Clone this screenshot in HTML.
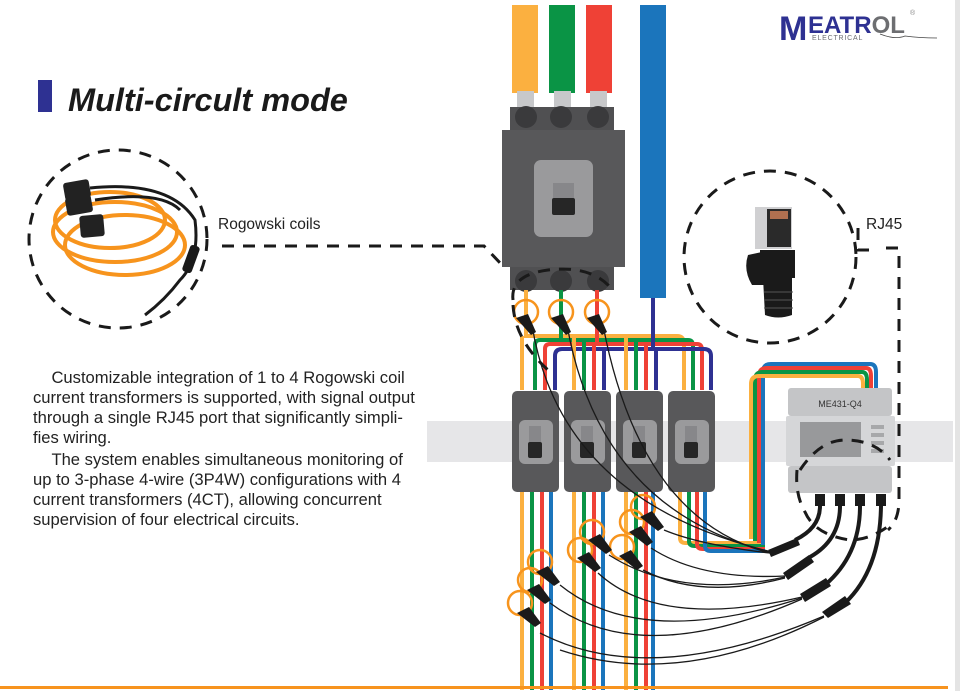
<!DOCTYPE html>
<html><head><meta charset="utf-8"><style>
html,body{margin:0;padding:0;background:#fff;}
body{width:960px;height:691px;overflow:hidden;position:relative;font-family:"Liberation Sans",sans-serif;}
.p{position:absolute;left:33px;top:368px;width:420px;font-size:16.6px;line-height:20px;color:#222;}
.p div{white-space:nowrap}
</style></head><body>
<svg width="960" height="691" viewBox="0 0 960 691" xmlns="http://www.w3.org/2000/svg" style="position:absolute;left:0;top:0">
<!-- rail -->
<rect x="427" y="421" width="526" height="41" fill="#e6e6e8"/>
<rect x="955" y="0" width="5" height="691" fill="#e4e4e4"/>
<!-- title -->
<rect x="38" y="80" width="14" height="32" fill="#2e3192"/>
<text x="68" y="111" font-family="Liberation Sans" font-weight="bold" font-style="italic" font-size="32.5" fill="#1a1a1a">Multi-circult mode</text>
<!-- logo -->
<text x="779" y="40" font-family="Liberation Sans" font-weight="bold" font-size="34" fill="#2e3192">M</text>
<text x="808" y="33" font-family="Liberation Sans" font-weight="bold" font-size="24" fill="#2e3192">EATR<tspan fill="#6d6e71">OL</tspan></text>
<text x="812" y="40" font-family="Liberation Sans" font-size="7" fill="#6d6e71" letter-spacing="0.8">ELECTRICAL</text>
<text x="910" y="15" font-family="Liberation Sans" font-size="7" fill="#888">®</text>
<path d="M880 34 Q895 40 905 36 Q920 38 937 38" stroke="#444" fill="none" stroke-width="0.8"/>
<!-- bus bars -->
<rect x="512" y="5" width="26" height="88" fill="#fbb040"/>
<rect x="549" y="5" width="26" height="88" fill="#0a9445"/>
<rect x="586" y="5" width="26" height="88" fill="#ef4136"/>
<rect x="640" y="5" width="26" height="293" fill="#1b75bc"/>
<rect x="517" y="91" width="17" height="20" fill="#c7c8ca"/>
<rect x="554" y="91" width="17" height="20" fill="#c7c8ca"/>
<rect x="590" y="91" width="17" height="20" fill="#c7c8ca"/>
<!-- main breaker -->
<rect x="510" y="107" width="104" height="24" fill="#505052"/>
<circle cx="526" cy="117" r="11" fill="#3a3a3c"/><circle cx="561" cy="117" r="11" fill="#3a3a3c"/><circle cx="598" cy="117" r="11" fill="#3a3a3c"/>
<rect x="502" y="130" width="123" height="137" fill="#58585a"/>
<rect x="534" y="160" width="59" height="77" rx="7" fill="#9a9a9c"/>
<rect x="553" y="183" width="21" height="16" fill="#87878a"/>
<rect x="552" y="198" width="23" height="17" rx="2" fill="#262626"/>
<rect x="510" y="267" width="104" height="23" fill="#505052"/>
<circle cx="526" cy="281" r="11" fill="#3a3a3c"/><circle cx="561" cy="281" r="11" fill="#3a3a3c"/><circle cx="598" cy="281" r="11" fill="#3a3a3c"/>
<!-- drops from breaker -->
<g fill="none" stroke-width="4">
<path d="M526 290 V336 H677 Q684 336 684 344 V390" stroke="#fbb040"/>
<path d="M561 290 V340 H688 Q693 340 693 346 V390" stroke="#0a9445"/>
<path d="M597 290 V344 H697 Q702 344 702 350 V390" stroke="#ef4136"/>
<path d="M653 298 V349 M555 390 V356 Q555 349 562 349 H704 Q711 349 711 356 V390" stroke="#2e3192"/>
<path d="M535 390 V345 Q535 340 540 340 H561" stroke="#0a9445"/>
<path d="M545 390 V349 Q545 344 550 344 H597" stroke="#ef4136"/>
<path d="M522 390 V336" stroke="#fbb040"/>
<path d="M574 390 V336 M626 390 V336" stroke="#fbb040"/>
<path d="M584 390 V340 M636 390 V340" stroke="#0a9445"/>
<path d="M594 390 V344 M646 390 V344" stroke="#ef4136"/>
<path d="M604 390 V349 M656 390 V349" stroke="#2e3192"/>
</g>
<!-- lower vertical wires -->
<g fill="none" stroke-width="4">
<path d="M522 490 V690 M574 490 V690 M626 490 V690" stroke="#fbb040"/>
<path d="M532 490 V690 M584 490 V690 M636 490 V690" stroke="#0a9445"/>
<path d="M542 490 V690 M594 490 V690 M646 490 V690" stroke="#ef4136"/>
<path d="M551 490 V690 M603 490 V690 M653 490 V690" stroke="#1b75bc"/>
<path d="M680 490 V538 Q680 543 686 543 H765" stroke="#fbb040"/>
<path d="M689 490 V541 Q689 546 695 546 H765" stroke="#0a9445"/>
<path d="M697 490 V544 Q697 549 703 549 H765" stroke="#ef4136"/>
<path d="M705 490 V546 Q705 551 711 551 H765" stroke="#1b75bc"/>
<path d="M763 545 V372 Q763 364 771 364 H870 Q876 364 876 372 V390" stroke="#1b75bc"/>
<path d="M759 543 V376 Q759 368 767 368 H866 Q871 368 871 376 V390" stroke="#ef4136"/>
<path d="M755 541 V380 Q755 372 763 372 H862 Q867 372 867 380 V390" stroke="#0a9445"/>
<path d="M751 539 V384 Q751 376 759 376 H858 Q863 376 863 384 V390" stroke="#fbb040"/>
</g>
<!-- small breakers -->
<g>
<rect x="512" y="391" width="47" height="101" rx="5" fill="#58585a"/>
<rect x="564" y="391" width="47" height="101" rx="5" fill="#58585a"/>
<rect x="616" y="391" width="47" height="101" rx="5" fill="#58585a"/>
<rect x="668" y="391" width="47" height="101" rx="5" fill="#58585a"/>
<rect x="519" y="420" width="34" height="44" rx="6" fill="#9a9a9c"/>
<rect x="571" y="420" width="34" height="44" rx="6" fill="#9a9a9c"/>
<rect x="623" y="420" width="34" height="44" rx="6" fill="#9a9a9c"/>
<rect x="675" y="420" width="34" height="44" rx="6" fill="#9a9a9c"/>
<rect x="529" y="426" width="12" height="16" fill="#87878a"/><rect x="528" y="442" width="14" height="16" rx="2" fill="#262626"/>
<rect x="581" y="426" width="12" height="16" fill="#87878a"/><rect x="580" y="442" width="14" height="16" rx="2" fill="#262626"/>
<rect x="633" y="426" width="12" height="16" fill="#87878a"/><rect x="632" y="442" width="14" height="16" rx="2" fill="#262626"/>
<rect x="685" y="426" width="12" height="16" fill="#87878a"/><rect x="684" y="442" width="14" height="16" rx="2" fill="#262626"/>
</g>
<!-- meter -->
<rect x="788" y="388" width="104" height="28" rx="3" fill="#c4c5c7"/>
<text x="840" y="407" text-anchor="middle" font-family="Liberation Sans" font-size="9" fill="#333">ME431-Q4</text>
<rect x="786" y="416" width="109" height="50" rx="2" fill="#d5d6d8"/>
<rect x="800" y="422" width="61" height="35" fill="#98999b"/>
<rect x="871" y="425" width="13" height="4" fill="#a7a8aa"/><rect x="871" y="433" width="13" height="4" fill="#a7a8aa"/><rect x="871" y="441" width="13" height="4" fill="#a7a8aa"/><rect x="871" y="449" width="13" height="4" fill="#a7a8aa"/>
<rect x="788" y="466" width="104" height="27" rx="3" fill="#c4c5c7"/>
<rect x="815" y="494" width="10" height="12" fill="#1a1a1a"/><rect x="835" y="494" width="10" height="12" fill="#1a1a1a"/><rect x="855" y="494" width="10" height="12" fill="#1a1a1a"/><rect x="876" y="494" width="10" height="12" fill="#1a1a1a"/>
<!-- thick meter cables -->
<g fill="none" stroke="#1a1a1a" stroke-width="4">
<path d="M820 506 Q820 528 795 540"/>
<path d="M840 506 Q840 540 810 557"/>
<path d="M860 506 Q860 555 825 585"/>
<path d="M881 506 Q880 570 845 603"/>
</g>
<g fill="#1a1a1a">
<path d="M768 550 L797 538 L800 545 L771 557 Z"/>
<path d="M783 573 L809 555 L814 562 L788 580 Z"/>
<path d="M800 594 L826 578 L831 586 L805 602 Z"/>
<path d="M822 612 L845 596 L851 604 L828 618 Z"/>
</g>
<!-- orange coil rings -->
<g fill="none" stroke="#f7941d" stroke-width="2.5">
<circle cx="526" cy="312" r="12"/><circle cx="561" cy="312" r="12"/><circle cx="597" cy="312" r="12"/>
<circle cx="643" cy="507" r="12"/><circle cx="632" cy="522" r="12"/><circle cx="592" cy="532" r="12"/>
<circle cx="580" cy="550" r="12"/><circle cx="622" cy="547" r="12"/><circle cx="540" cy="562" r="12"/>
<circle cx="530" cy="580" r="12"/><circle cx="520" cy="603" r="12"/>
</g>
<!-- sensor wires -->
<g fill="none" stroke="#1a1a1a" stroke-width="1.3">
<path d="M532 325 Q560 500 768 551"/>
<path d="M567 325 Q600 510 770 552"/>
<path d="M603 325 Q640 520 770 553"/>
<path d="M664 530 Q700 545 770 553"/>
<path d="M651 548 Q700 580 785 576"/>
<path d="M609 555 Q680 600 785 577"/>
<path d="M643 570 Q700 600 785 578"/>
<path d="M598 573 Q660 630 802 597"/>
<path d="M560 585 Q640 650 802 598"/>
<path d="M550 603 Q640 670 802 599"/>
<path d="M540 633 Q650 690 824 616"/>
<path d="M560 650 Q680 690 824 617"/>
</g>
<g fill="#1a1a1a">
<path d="M516 318 l12 -4 l8 18 l-5 3 Z"/>
<path d="M551 318 l12 -4 l8 18 l-5 3 Z"/>
<path d="M587 318 l12 -4 l8 18 l-5 3 Z"/>
<path d="M640 517 l12 -6 l12 16 l-6 4 Z"/>
<path d="M629 532 l12 -6 l12 16 l-6 4 Z"/>
<path d="M588 540 l12 -6 l12 16 l-6 4 Z"/>
<path d="M577 558 l12 -6 l12 16 l-6 4 Z"/>
<path d="M619 556 l12 -6 l12 16 l-6 4 Z"/>
<path d="M536 572 l12 -6 l12 16 l-6 4 Z"/>
<path d="M527 590 l12 -6 l12 16 l-6 4 Z"/>
<path d="M517 613 l12 -6 l12 16 l-6 4 Z"/>
</g>
<!-- dashed callouts -->
<g fill="none" stroke="#1a1a1a" stroke-width="3" stroke-dasharray="12 9">
<circle cx="118" cy="239" r="89"/>
<path d="M222 246 H484 L503 266"/>
<path d="M513 300 Q510 275 548 270 Q590 265 610 287"/>
<path d="M513 305 Q515 340 548 370"/>
<circle cx="770" cy="257" r="86"/>
<path d="M858 228 V250 H872"/>
<path d="M886 248 H899 V500 Q899 520 888 530"/>
<path d="M800 470 Q820 440 845 440 Q875 440 890 460"/>
<path d="M797 470 Q795 495 805 512 Q815 535 850 540 Q870 540 890 525"/>
</g>
<!-- rogowski illustration -->
<g fill="none" stroke="#f7941d" stroke-width="4">
<ellipse cx="110" cy="220" rx="55" ry="28"/>
<ellipse cx="115" cy="232" rx="62" ry="30"/>
<ellipse cx="125" cy="245" rx="60" ry="30"/>
</g>
<g fill="none" stroke="#1a1a1a" stroke-width="3">
<path d="M90 188 Q170 180 195 220 Q200 260 180 280 Q165 300 145 315"/>
<path d="M95 200 Q160 190 180 210"/>
</g>
<rect x="186" y="245" width="10" height="28" rx="3" fill="#1a1a1a" transform="rotate(20 191 259)"/>
<g fill="#222">
<rect x="64" y="181" width="26" height="18" rx="3" transform="rotate(-10 77 190)"/>
<rect x="66" y="196" width="26" height="18" rx="3" transform="rotate(-10 79 205)"/>
<rect x="80" y="215" width="24" height="22" rx="3" transform="rotate(-5 92 226)"/>
</g>
<text x="218" y="229" font-family="Liberation Sans" font-size="15.5" fill="#222">Rogowski coils</text>
<text x="866" y="229" font-family="Liberation Sans" font-size="15.5" fill="#222">RJ45</text>
<!-- RJ45 plug -->
<rect x="755" y="207" width="37" height="42" fill="#d0d0d2"/>
<rect x="767" y="209" width="24" height="38" fill="#2a2a2a"/>
<rect x="770" y="211" width="18" height="8" fill="#b07050"/>
<path d="M748 255 Q743 270 752 285 L764 285 L762 252 Z" fill="#1a1a1a"/>
<rect x="760" y="250" width="35" height="28" fill="#1a1a1a"/>
<path d="M763 278 H792 V315 Q778 320 765 315 Z" fill="#1a1a1a"/>
<g stroke="#555" stroke-width="1"><path d="M764 292 H793 M764 300 H793 M764 308 H793"/></g>
<!-- bottom line -->
<rect x="0" y="686" width="948" height="3" fill="#f7931e"/>
</svg>
<div class="p">
<div>&nbsp;&nbsp;&nbsp;&nbsp;Customizable integration of 1 to 4 Rogowski coil</div>
<div>current transformers is supported, with signal output</div>
<div>through a single RJ45 port that significantly simpli-</div>
<div>fies wiring.</div>
<div style="margin-top:2px">&nbsp;&nbsp;&nbsp;&nbsp;The system enables simultaneous monitoring of</div>
<div>up to 3-phase 4-wire (3P4W) configurations with 4</div>
<div>current transformers (4CT), allowing concurrent</div>
<div>supervision of four electrical circuits.</div>
</div>
</body></html>
